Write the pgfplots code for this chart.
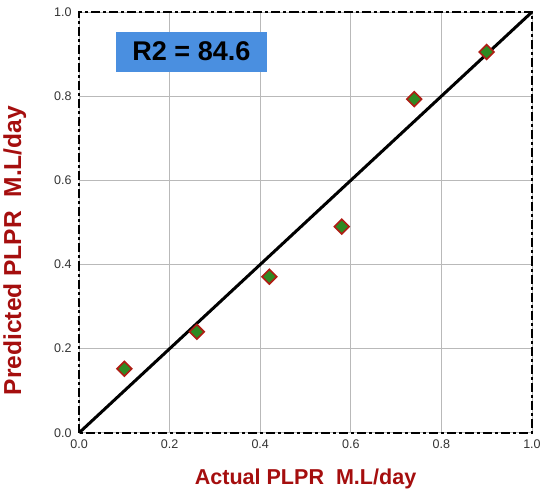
\documentclass[border=0pt]{standalone}
\usepackage{pgfplots}
\pgfplotsset{compat=1.18}
\usepackage{fontspec}
\setmainfont{Liberation Sans}
\definecolor{lblred}{HTML}{A50E0E}
\definecolor{boxblue}{HTML}{4A8FE0}
\definecolor{mkgreen}{HTML}{2E8A22}
\definecolor{mkred}{HTML}{B01C14}
\begin{document}
\begin{tikzpicture}
\begin{axis}[
    scale only axis,
    width=452pt, height=420pt,
    xmin=0, xmax=1, ymin=0, ymax=1,
    xtick={0,0.2,...,1.0}, ytick={0,0.2,...,1.0},
    /pgf/number format/.cd, fixed, fixed zerofill, precision=1,
    /pgf/number format/assume math mode=true,
    /pgfplots/.cd,
    tick label style={font=\fontsize{12.5}{14}\selectfont, text=black!80},
    yticklabel style={xshift=-4pt},
    xticklabel style={yshift=-3pt},
    major tick length=0pt,
    grid=major, grid style={gray!55, line width=0.9pt},
    axis line style={black, line width=2pt, dash pattern=on 9pt off 3pt on 3pt off 3pt},
    xlabel={Actual PLPR\ \ M.L/day},
    ylabel={Predicted PLPR\ \ M.L/day},
    label style={text=lblred},
    xlabel style={font=\fontsize{21.5}{24}\selectfont\bfseries, yshift=-14pt},
    ylabel style={font=\fontsize{24.5}{27}\selectfont\bfseries, at={(ticklabel cs:0.433)}, yshift=21pt},
    clip=false,
]
\addplot[black, line width=3pt, no marks] coordinates {(0,0) (1,1)};
\addplot[only marks, mark=square*, mark size=5.2pt,
    mark options={fill=mkgreen, draw=mkred, line width=1.6pt, rotate=45}] coordinates {
    (0.10,0.152) (0.26,0.240) (0.42,0.371) (0.58,0.490) (0.74,0.793) (0.90,0.905)};
\node[fill=boxblue, text=black, font=\fontsize{27}{30}\selectfont\bfseries,
    minimum width=150pt, minimum height=40pt, inner sep=2pt]
    at (axis cs:0.248,0.906) {R2 = 84.6};
\path (rel axis cs:0,1) ++(0pt,12pt);
\end{axis}
\end{tikzpicture}
\end{document}
